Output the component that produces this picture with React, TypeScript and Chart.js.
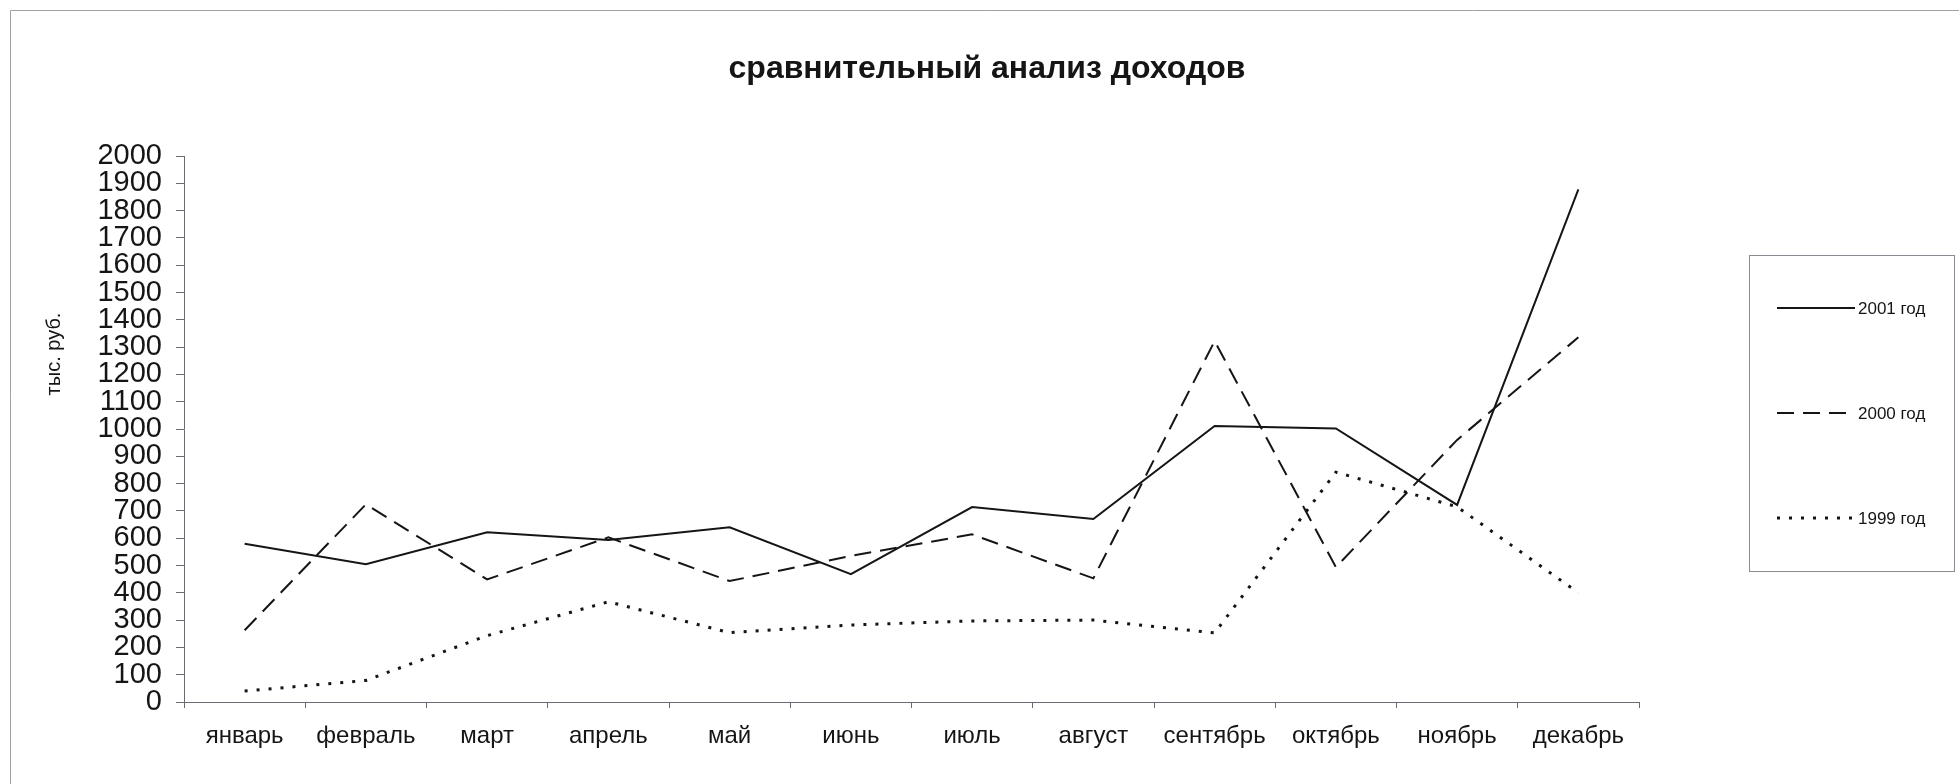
import React, { useEffect, useRef } from "react";
import { Chart, registerables } from "chart.js";

Chart.register(...registerables);

const months = [
  "январь", "февраль", "март", "апрель", "май", "июнь",
  "июль", "август", "сентябрь", "октябрь", "ноябрь", "декабрь",
];
const income2001 = [580, 505, 622, 593, 640, 468, 714, 670, 1011, 1002, 722, 1878];
const income2000 = [263, 724, 449, 603, 443, 535, 614, 453, 1322, 494, 960, 1336];
const income1999 = [40, 79, 243, 367, 254, 282, 297, 300, 253, 842, 715, 400];
const seriesLabels = ["2001 год", "2000 год", "1999 год"];
const chartTitle = "сравнительный анализ доходов";
const yAxisTitle = "тыс. руб.";

const FONT = "'Liberation Sans', Arial, sans-serif";
const INK = "#151515";

const decorations = {
  id: "decorations",
  afterDraw(chart: any) {
    const ctx = chart.ctx;
    ctx.save();
    // outer frame
    ctx.strokeStyle = "#a0a0a8";
    ctx.lineWidth = 1;
    ctx.setLineDash([]);
    ctx.beginPath();
    ctx.moveTo(10.5, 790);
    ctx.lineTo(10.5, 10.5);
    ctx.lineTo(1970, 10.5);
    ctx.stroke();

    // title
    ctx.fillStyle = INK;
    ctx.font = `bold 32px ${FONT}`;
    ctx.textAlign = "center";
    ctx.textBaseline = "middle";
    ctx.fillText(chartTitle, 987, 69);

    // y-axis title
    ctx.save();
    ctx.translate(54, 354);
    ctx.rotate(-Math.PI / 2);
    ctx.font = `20px ${FONT}`;
    ctx.fillText(yAxisTitle, 0, 0);
    ctx.restore();

    // legend box
    const bx = 1749, by = 255, bw = 205, bh = 316;
    ctx.strokeStyle = "#8a8a92";
    ctx.lineWidth = 1;
    ctx.strokeRect(bx + 0.5, by + 0.5, bw, bh);
    const rows = [308, 413, 518];
    chart.data.datasets.forEach((ds: any, i: number) => {
      const y = rows[i];
      ctx.strokeStyle = ds.borderColor;
      ctx.lineWidth = ds.borderWidth;
      ctx.setLineDash(ds.borderDash || []);
      ctx.beginPath();
      ctx.moveTo(1777, y);
      ctx.lineTo(1855, y);
      ctx.stroke();
      ctx.setLineDash([]);
      ctx.fillStyle = INK;
      ctx.font = `17px ${FONT}`;
      ctx.textAlign = "left";
      ctx.textBaseline = "middle";
      ctx.fillText(ds.label, 1858, y + 1);
    });
    ctx.restore();
  },
};

export default function App() {
  const ref = useRef<HTMLCanvasElement>(null);
  useEffect(() => {
    document.body.style.margin = "0";
    const chart = new Chart(ref.current!, {
      type: "line",
      data: {
        labels: months,
        datasets: [
          {
            label: seriesLabels[0],
            data: income2001,
            borderColor: INK,
            borderWidth: 2,
            borderDash: [],
            pointRadius: 0,
            tension: 0,
          },
          {
            label: seriesLabels[1],
            data: income2000,
            borderColor: INK,
            borderWidth: 2,
            borderDash: [17, 9],
            pointRadius: 0,
            tension: 0,
          },
          {
            label: seriesLabels[2],
            data: income1999,
            borderColor: INK,
            borderWidth: 3,
            borderDash: [3, 9],
            pointRadius: 0,
            tension: 0,
          },
        ],
      },
      options: {
        responsive: false,
        animation: false,
        layout: { padding: { left: 0, right: 320, top: 156, bottom: 0 } },
        plugins: {
          legend: { display: false },
          tooltip: { enabled: false },
          title: { display: false },
        },
        scales: {
          x: {
            type: "category",
            offset: true,
            grid: {
              offset: true,
              drawOnChartArea: false,
              drawTicks: true,
              tickLength: 6,
              color: "#6a6a72",
            },
            border: { display: true, color: "#6a6a72", width: 1 },
            ticks: {
              color: INK,
              font: { family: FONT, size: 24 },
              padding: 14,
              maxRotation: 0,
              autoSkip: false,
            },
            afterFit(scale: any) {
              scale.height = 82;
            },
          },
          y: {
            min: 0,
            max: 2000,
            ticks: {
              stepSize: 100,
              autoSkip: false,
              color: INK,
              font: { family: FONT, size: 29, lineHeight: 1 },
              padding: 14,
              callback: (v: any) => String(v),
            },
            grid: {
              drawOnChartArea: false,
              drawTicks: true,
              tickLength: 8,
              color: "#6a6a72",
            },
            border: { display: true, color: "#6a6a72", width: 1 },
            title: { display: false },
            afterFit(scale: any) {
              scale.width = 184;
            },
          },
        },
      },
      plugins: [decorations],
    });
    return () => chart.destroy();
  }, []);
  return (
    <div style={{ position: "fixed", left: 0, top: 0, width: 1959, height: 784, background: "#fff" }}>
      <canvas ref={ref} width={1959} height={784} style={{ display: "block" }} />
    </div>
  );
}
